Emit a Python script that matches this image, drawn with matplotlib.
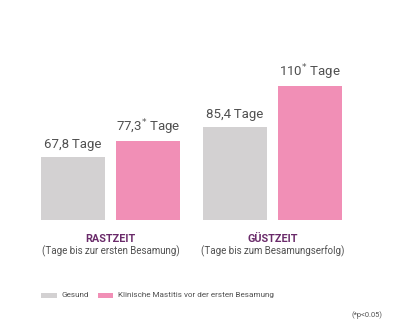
import matplotlib
matplotlib.use("Agg")
import matplotlib.pyplot as plt
from matplotlib.patches import Rectangle

groups = ["RASTZEIT", "GÜSTZEIT"]
subtitles = ["(Tage bis zur ersten Besamung)", "(Tage bis zum Besamungserfolg)"]
series_names = ["Gesund", "Klinische Mastitis vor der ersten Besamung"]
gesund = [67.8, 85.4]
mastitis = [77.3, 110.0]
significant = [True, True]  # mastitis vs. gesund, p<0.05
footnote = "(*p<0.05)"

GRAY = "#d3d1d2"
PINK = "#f18fb6"
PURPLE = "#6a2b6a"
TEXT = "#505050"
FONT = "Roboto"

W, H = 400, 335
fig = plt.figure(figsize=(W / 100, H / 100), dpi=100)

def px_rect(left, top, right, bottom):
    return [left / W, 1 - bottom / H, (right - left) / W, (bottom - top) / H]

ax = fig.add_axes(px_rect(41, 60, 342, 220))
ax.set_xlim(-0.429, 1.429)
ax.set_ylim(30.5, 125.3)
ax.axis("off")

offset = 0.2315
width = 0.395

def fmt(v):
    s = f"{v:.1f}".replace(".", ",")
    if s.endswith(",0"):
        s = s[:-2]
    return s

for i in range(len(groups)):
    for val, x, col, star in [(gesund[i], i - offset, GRAY, False),
                              (mastitis[i], i + offset, PINK, significant[i])]:
        ax.bar(x, val - 30.5, bottom=30.5, width=width, color=col, linewidth=0)
        label = fmt(val) + (r"$^{*}$ " if star else "\u2009") + "Tage"
        ax.annotate(label, (x, val), xytext=(0, 6.8), textcoords="offset points",
                    ha="center", va="baseline", fontsize=9.5, color=TEXT,
                    family=[FONT, "DejaVu Sans"])
    ax.annotate(groups[i], (i, 30.5), xytext=(0, -14), textcoords="offset points",
                ha="center", va="center", fontsize=7.8, color=PURPLE,
                fontweight="bold", family=FONT, annotation_clip=False)
    ax.annotate(subtitles[i], (i, 30.5), xytext=(0, -22.5), textcoords="offset points",
                ha="center", va="center", fontsize=7.0, color=TEXT,
                family=FONT, annotation_clip=False)

# legend row
leg_y = 1 - 295 / H
for (x0, x1, col), tx, name in [((41, 57, GRAY), 62, series_names[0]),
                                ((98, 113, PINK), 118, series_names[1])]:
    fig.patches.append(Rectangle((x0 / W, leg_y - 2.5 / H), (x1 - x0) / W, 5 / H,
                                 transform=fig.transFigure, color=col, linewidth=0))
    fig.text(tx / W, leg_y, name, ha="left", va="center", fontsize=5.9,
             color=TEXT, family=FONT)

fig.text(383 / W, 1 - 315 / H, footnote, ha="right", va="center", fontsize=5.4,
         color=TEXT, family=FONT)

fig.savefig("out.png", dpi=100, facecolor="white")
